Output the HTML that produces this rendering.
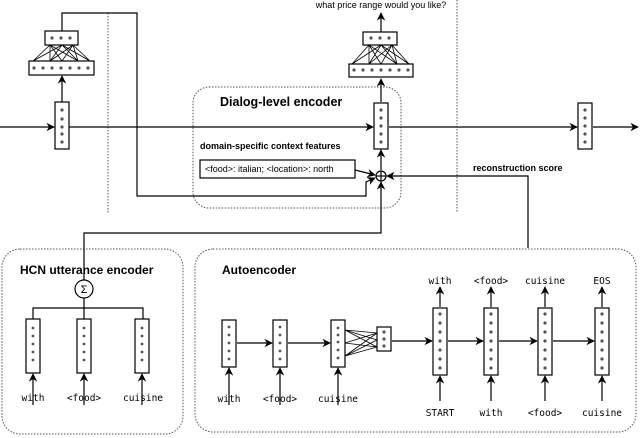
<!DOCTYPE html>
<html><head><meta charset="utf-8"><style>html,body{margin:0;padding:0;background:#fff}svg{display:block}</style></head><body>
<svg width="640" height="438" viewBox="0 0 640 438" xmlns="http://www.w3.org/2000/svg" font-family="Liberation Sans, sans-serif">
<defs>
<marker id="a" viewBox="0 0 10 10" refX="9" refY="5" markerWidth="7" markerHeight="7" orient="auto"><path d="M0,0 L10,5 L0,10 L3,5 z" fill="#000"/></marker>
<g id="v5" fill="#555"><circle cx="0" cy="0" r="1.4"/><circle cx="0" cy="8" r="1.4"/><circle cx="0" cy="16" r="1.4"/><circle cx="0" cy="24" r="1.4"/><circle cx="0" cy="32" r="1.4"/></g>
<g id="v7" fill="#555"><circle cx="0" cy="0" r="1.6"/><circle cx="0" cy="9" r="1.6"/><circle cx="0" cy="18" r="1.6"/><circle cx="0" cy="27" r="1.6"/><circle cx="0" cy="36" r="1.6"/><circle cx="0" cy="45" r="1.6"/><circle cx="0" cy="54" r="1.6"/></g>
</defs>
<g fill="none" stroke="#555" stroke-dasharray="1.5,1.5" stroke-width="1">
<line x1="108" y1="13" x2="108" y2="213"/>
<line x1="457" y1="0" x2="457" y2="213"/>
<rect x="193" y="87" width="208" height="121" rx="16"/>
<rect x="2" y="249" width="181" height="185" rx="18"/>
<rect x="195" y="249" width="441" height="183" rx="18"/>
</g>
<g stroke="#000" stroke-width="1.2" fill="none">
<line x1="0" y1="127" x2="54" y2="127" marker-end="url(#a)"/>
<line x1="69" y1="127" x2="373" y2="127" marker-end="url(#a)"/>
<line x1="389" y1="127" x2="577" y2="127" marker-end="url(#a)"/>
<line x1="593" y1="127" x2="638" y2="127" marker-end="url(#a)"/>
<line x1="62" y1="102" x2="62" y2="76" marker-end="url(#a)"/>
<polyline points="62,31 62,13 137,13 137,196 366,196 366,182 375,178" marker-end="url(#a)"/>
<line x1="381" y1="102" x2="381" y2="79" marker-end="url(#a)"/>
<line x1="381" y1="32" x2="381" y2="13" marker-end="url(#a)"/>
<line x1="381" y1="170" x2="381" y2="150" marker-end="url(#a)"/>
<line x1="355" y1="170" x2="375" y2="175" marker-end="url(#a)"/>
<polyline points="528,248 528,176 387,176" marker-end="url(#a)"/>
<polyline points="84,280 84,233 381,233 381,182" marker-end="url(#a)"/>
<line x1="84" y1="298" x2="84" y2="308"/>
<polyline points="33,319 33,308 143,308 143,319"/>
<line x1="84" y1="308" x2="84" y2="319"/>
<circle cx="84" cy="289" r="9" fill="#fff"/>
<circle cx="381" cy="176" r="5" fill="#fff"/>
<line x1="376" y1="176" x2="386" y2="176"/><line x1="381" y1="171" x2="381" y2="181"/>
</g>
<g stroke="#000" stroke-width="1.2">
<line x1="33" y1="405" x2="33" y2="374" marker-end="url(#a)"/>
<line x1="84" y1="405" x2="84" y2="374" marker-end="url(#a)"/>
<line x1="142" y1="405" x2="142" y2="374" marker-end="url(#a)"/>
<line x1="229" y1="405" x2="229" y2="368" marker-end="url(#a)"/>
<line x1="280" y1="405" x2="280" y2="368" marker-end="url(#a)"/>
<line x1="338" y1="405" x2="338" y2="368" marker-end="url(#a)"/>
<line x1="237" y1="343" x2="272" y2="343" marker-end="url(#a)"/>
<line x1="288" y1="343" x2="330" y2="343" marker-end="url(#a)"/>
<line x1="392" y1="341" x2="432" y2="341" marker-end="url(#a)"/>
<line x1="448" y1="341" x2="483" y2="341" marker-end="url(#a)"/>
<line x1="499" y1="341" x2="537" y2="341" marker-end="url(#a)"/>
<line x1="553" y1="341" x2="594" y2="341" marker-end="url(#a)"/>
<line x1="440" y1="401" x2="440" y2="376" marker-end="url(#a)"/>
<line x1="491" y1="401" x2="491" y2="376" marker-end="url(#a)"/>
<line x1="545" y1="401" x2="545" y2="376" marker-end="url(#a)"/>
<line x1="602" y1="401" x2="602" y2="376" marker-end="url(#a)"/>
<line x1="440" y1="307" x2="440" y2="287" marker-end="url(#a)"/>
<line x1="491" y1="307" x2="491" y2="287" marker-end="url(#a)"/>
<line x1="545" y1="307" x2="545" y2="287" marker-end="url(#a)"/>
<line x1="602" y1="307" x2="602" y2="287" marker-end="url(#a)"/>
</g>
<g stroke="#000" stroke-width="0.8">
<path d="M50,45 L33,61 M50,45 L50,61 M50,45 L62,61 M50,45 L78,61 M62,45 L33,61 M62,45 L50,61 M62,45 L78,61 M62,45 L90,61 M73,45 L50,61 M73,45 L62,61 M73,45 L78,61 M73,45 L90,61"/>
<path d="M369,45 L352,64 M369,45 L369,64 M369,45 L381,64 M369,45 L397,64 M381,45 L352,64 M381,45 L369,64 M381,45 L397,64 M381,45 L409,64 M392,45 L369,64 M392,45 L381,64 M392,45 L397,64 M392,45 L409,64"/>
<path d="M345,330 L377,333 M345,330 L377,340 M345,330 L377,347 M345,343 L377,333 M345,343 L377,347 M345,356 L377,333 M345,356 L377,340 M345,356 L377,347"/>
</g>
<g fill="#fff" stroke="#000" stroke-width="1.2">
<rect x="55" y="102" width="14" height="47"/>
<rect x="29" y="61" width="65" height="14"/>
<rect x="45" y="31" width="33" height="14"/>
<rect x="374" y="103" width="14" height="46"/>
<rect x="349" y="64" width="64" height="13"/>
<rect x="363" y="32" width="34" height="13"/>
<rect x="578" y="103" width="14" height="46"/>
<rect x="200" y="160" width="155" height="18"/>
<rect x="26" y="319" width="14" height="54"/>
<rect x="77" y="319" width="14" height="54"/>
<rect x="135" y="319" width="14" height="54"/>
<rect x="222" y="320" width="14" height="47"/>
<rect x="273" y="320" width="14" height="47"/>
<rect x="331" y="320" width="14" height="47"/>
<rect x="377" y="327" width="14" height="24"/>
<rect x="433" y="308" width="14" height="67"/>
<rect x="484" y="308" width="14" height="67"/>
<rect x="538" y="308" width="14" height="67"/>
<rect x="595" y="308" width="14" height="67"/>
</g>
<g fill="#555">
<circle cx="62" cy="110" r="1.6"/><circle cx="62" cy="119" r="1.6"/><circle cx="62" cy="127" r="1.6"/><circle cx="62" cy="134" r="1.6"/><circle cx="62" cy="142" r="1.6"/>
<circle cx="381" cy="110" r="1.6"/><circle cx="381" cy="118" r="1.6"/><circle cx="381" cy="126" r="1.6"/><circle cx="381" cy="134" r="1.6"/><circle cx="381" cy="142" r="1.6"/>
<circle cx="585" cy="110" r="1.6"/><circle cx="585" cy="118" r="1.6"/><circle cx="585" cy="126" r="1.6"/><circle cx="585" cy="134" r="1.6"/><circle cx="585" cy="142" r="1.6"/>
<circle cx="34" cy="68" r="1.6"/><circle cx="43" cy="68" r="1.6"/><circle cx="52" cy="68" r="1.6"/><circle cx="61" cy="68" r="1.6"/><circle cx="70" cy="68" r="1.6"/><circle cx="79" cy="68" r="1.6"/><circle cx="88" cy="68" r="1.6"/>
<circle cx="52" cy="38" r="1.6"/><circle cx="61" cy="38" r="1.6"/><circle cx="70" cy="38" r="1.6"/>
<circle cx="354" cy="70" r="1.6"/><circle cx="363" cy="70" r="1.6"/><circle cx="372" cy="70" r="1.6"/><circle cx="381" cy="70" r="1.6"/><circle cx="390" cy="70" r="1.6"/><circle cx="399" cy="70" r="1.6"/><circle cx="408" cy="70" r="1.6"/>
<circle cx="371" cy="38" r="1.6"/><circle cx="380" cy="38" r="1.6"/><circle cx="389" cy="38" r="1.6"/>
<circle cx="229" cy="327" r="1.4"/><circle cx="229" cy="335" r="1.4"/><circle cx="229" cy="343" r="1.4"/><circle cx="229" cy="351" r="1.4"/><circle cx="229" cy="359" r="1.4"/>
<circle cx="280" cy="327" r="1.4"/><circle cx="280" cy="335" r="1.4"/><circle cx="280" cy="343" r="1.4"/><circle cx="280" cy="351" r="1.4"/><circle cx="280" cy="359" r="1.4"/>
<circle cx="338" cy="328" r="1.4"/><circle cx="338" cy="335" r="1.4"/><circle cx="338" cy="342" r="1.4"/><circle cx="338" cy="350" r="1.4"/><circle cx="338" cy="358" r="1.4"/>
<circle cx="384" cy="332" r="1.6"/><circle cx="384" cy="339" r="1.6"/><circle cx="384" cy="346" r="1.6"/>
</g>
<use href="#v5" x="33" y="328"/><use href="#v5" x="84" y="328"/><use href="#v5" x="142" y="328"/>
<use href="#v7" x="440" y="314"/><use href="#v7" x="491" y="314"/><use href="#v7" x="545" y="314"/><use href="#v7" x="602" y="314"/>
<g font-family="Liberation Sans, sans-serif" fill="#000">
<text x="381" y="8" font-size="9" text-anchor="middle">what price range would you like?</text>
<text x="220" y="106" font-size="12.5" font-weight="bold">Dialog-level encoder</text>
<text x="200" y="149" font-size="9" font-weight="bold">domain-specific context features</text>
<text x="205" y="172" font-size="9">&lt;food&gt;: italian; &lt;location&gt;: north</text>
<text x="473" y="171" font-size="9" font-weight="bold">reconstruction score</text>
<text x="20" y="274" font-size="12" font-weight="bold">HCN utterance encoder</text>
<text x="222" y="274" font-size="12" font-weight="bold">Autoencoder</text>
<text x="84" y="293" font-size="11" text-anchor="middle">Σ</text>
</g>
<g font-family="DejaVu Sans Mono, Liberation Mono, monospace" font-size="9.5" text-anchor="middle" fill="#000">
<text x="33" y="401">with</text><text x="84" y="401">&lt;food&gt;</text><text x="143" y="401">cuisine</text>
<text x="229" y="402">with</text><text x="280" y="402">&lt;food&gt;</text><text x="338" y="402">cuisine</text>
<text x="440" y="284">with</text><text x="491" y="284">&lt;food&gt;</text><text x="545" y="284">cuisine</text><text x="602" y="284">EOS</text>
<text x="440" y="416">START</text><text x="491" y="416">with</text><text x="545" y="416">&lt;food&gt;</text><text x="602" y="416">cuisine</text>
</g>
</svg>
</body></html>
